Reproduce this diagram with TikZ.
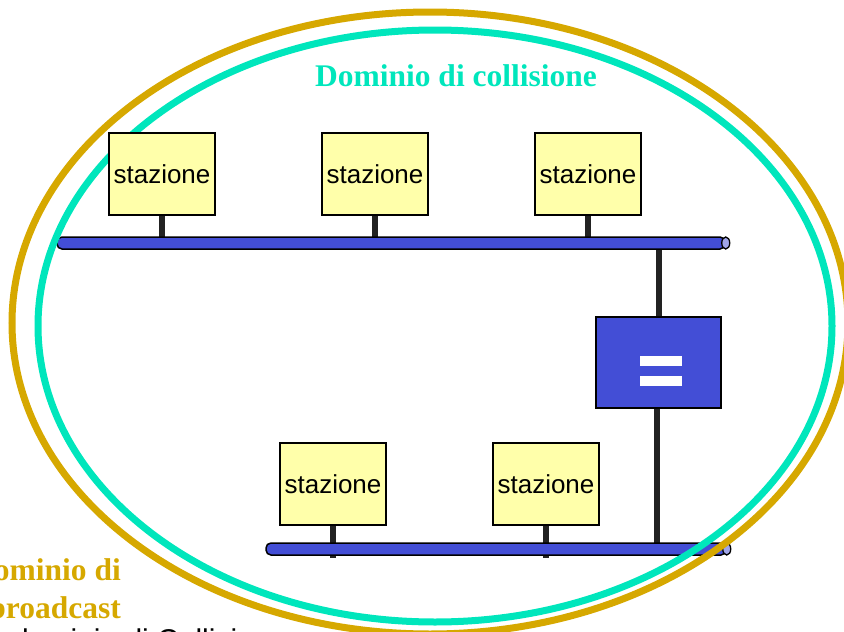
\documentclass[tikz,border=0pt]{standalone}
\usepackage{fontspec}
\setmainfont{Liberation Serif}
\newfontfamily\arialf{Liberation Sans}
\pgfdeclarelayer{bg}
\pgfsetlayers{bg,main}
\definecolor{busblue}{RGB}{67,78,214}
\definecolor{buscap}{RGB}{160,165,232}
\definecolor{stayellow}{RGB}{255,255,170}
\definecolor{goldc}{RGB}{214,168,0}
\definecolor{tealc}{RGB}{0,230,188}
\definecolor{stemc}{RGB}{34,34,34}
\begin{document}
\begin{tikzpicture}[x=1pt,y=-1pt,
  stazbox/.style={draw=black, line width=1.4pt, fill=stayellow, minimum width=106pt, minimum height=82pt, inner sep=0pt, font=\arialf\fontsize{26}{30}\selectfont},
  busbar/.style={draw=black, line width=1.5pt, fill=busblue, rounded corners=5pt, minimum height=12pt, inner sep=0pt},
  buscapst/.style={draw=black, line width=1.3pt, fill=buscap},
  stemline/.style={draw=stemc, line width=6pt},
  repbox/.style={draw=black, line width=1.4pt, fill=busblue, minimum width=125pt, minimum height=91pt, inner sep=0pt},
  ring/.style={line width=7pt},
  lbl/.style={inner sep=0pt}]
\useasboundingbox (0,0) rectangle (844,632);
% buses
\node[busbar, minimum width=668pt] (busA) at (391,243) {};
\draw[buscapst] (busA.east) ellipse (4pt and 6pt);
\node[busbar, minimum width=460pt] (busB) at (496,549) {};
\draw[buscapst] (busB.east) ellipse (4pt and 6pt);
% domain rings
\draw[ring, goldc] (430,323) ellipse (418pt and 311pt);
\draw[ring, tealc] (435,326) ellipse (397pt and 296pt);
% stations
\node[stazbox] (s1) at (162,174) {stazione};
\node[stazbox] (s2) at (375,174) {stazione};
\node[stazbox] (s3) at (588,174) {stazione};
\node[stazbox] (s4) at (333,484) {stazione};
\node[stazbox] (s5) at (546,484) {stazione};
% repeater
\node[repbox] (rep) at (658.5,362.5) {};
\fill[white] (640,356) rectangle (682,366);
\fill[white] (640,376) rectangle (682,386);
\begin{pgfonlayer}{bg}
\draw[stemline] (s1.south) -- (s1.south |- busA.center);
\draw[stemline] (s2.south) -- (s2.south |- busA.center);
\draw[stemline] (s3.south) -- (s3.south |- busA.center);
\draw[stemline] (s4.south) -- ([yshift=-2pt]s4.south |- busB.south);
\draw[stemline] (s5.south) -- ([yshift=-2pt]s5.south |- busB.south);
\draw[stemline] (rep.north) -- (rep.north |- busA.center);
\draw[stemline] ([xshift=-2pt]rep.south) -- ([xshift=-2pt]rep.south |- busB.center);
\end{pgfonlayer}
% labels
\node[lbl, anchor=base, text=tealc, font=\bfseries\fontsize{31.5}{36}\selectfont] (coll) at (456,86) {Dominio di collisione};
\node[lbl, anchor=base east, text=goldc, font=\bfseries\fontsize{31.5}{36}\selectfont] (bc1) at (121,580) {Dominio di};
\node[lbl, anchor=base east, text=goldc, font=\bfseries\fontsize{31.5}{36}\selectfont] (bc2) at (121,618) {broadcast};
\node[lbl, anchor=base west, font=\arialf\fontsize{30}{36}\selectfont] (cap) at (12,650) {dominio di Collisione};
\end{tikzpicture}
\end{document}
